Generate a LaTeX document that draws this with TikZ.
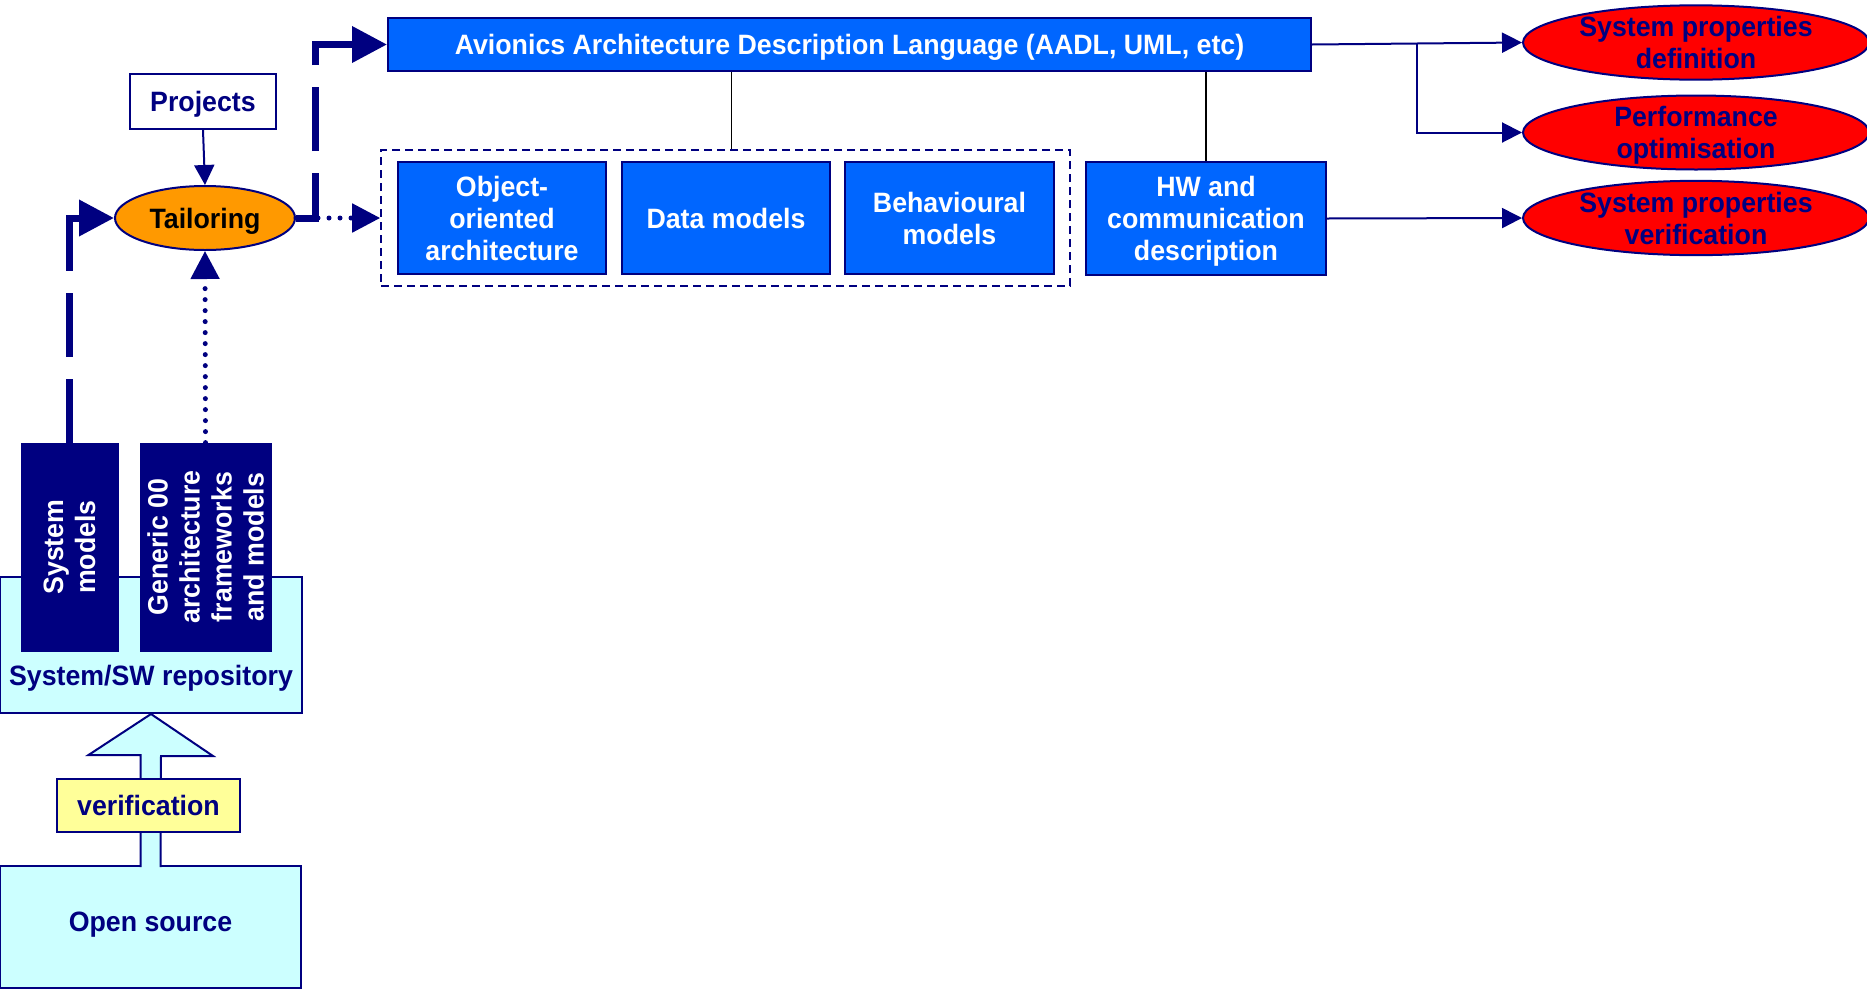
\documentclass[tikz,border=0pt]{standalone}
\usepackage{fontspec}
\setmainfont{Liberation Sans}[FakeStretch=0.955]
\usetikzlibrary{shapes,arrows.meta,calc,positioning}
\definecolor{navy}{HTML}{000080}
\definecolor{boxblue}{HTML}{0066FF}
\definecolor{ovalred}{HTML}{FF0000}
\definecolor{tailorange}{HTML}{FF9900}
\definecolor{repocyan}{HTML}{CCFFFF}
\definecolor{verifyellow}{HTML}{FFFF99}

\begin{document}
\begin{tikzpicture}[x=0.5pt, y=-0.5pt, font=\fontsize{14}{16}\selectfont\bfseries]
		\tikzstyle {blue box} = [draw=navy, line width=1pt, fill=boxblue, text=white, align=center, inner sep=2pt]
		\tikzstyle {dark box} = [draw=navy, fill=navy, text=white, align=center, rotate=90, minimum width=104pt, inner sep=2pt]
		\tikzstyle {red oval} = [ellipse, draw=navy, line width=1pt, fill=ovalred, text=navy, align=center, minimum width=173pt, minimum height=37pt, inner sep=0pt]
		\tikzstyle {cyan box} = [draw=navy, line width=1pt, fill=repocyan, text=navy]
		\tikzstyle {flat text} = [text depth=0pt]
		\tikzstyle {thick dash} = [navy, line width=3.5pt, dash pattern=on 32pt off 11pt, -{Triangle[length=17.5pt,width=17.5pt]}]
		\tikzstyle {dot line} = [navy, line width=2.5pt, line cap=round, dash pattern=on 0pt off 5.5pt, -{Triangle[length=14pt,width=14pt]}]
		\tikzstyle {thin arrow} = [navy, line width=1pt, -{Triangle[length=10pt,width=10pt]}]
		\tikzstyle {black line} = [black, line width=0.8pt]

		\useasboundingbox (0,0) rectangle (1867,991);

		\node[blue box, flat text, minimum width=461.5pt, minimum height=26.5pt] (aadl) at (849.5,44.5) {Avionics Architecture Description Language (AADL, UML, etc)};
		\node[draw=navy, line width=1pt, fill=white, text=navy, flat text, minimum width=73pt, minimum height=27.5pt] (proj) at (203,101.5) {Projects};
		\node[ellipse, draw=navy, line width=1pt, fill=tailorange, flat text, minimum width=90pt, minimum height=32pt, inner sep=0pt] (tail) at (205,218) {Tailoring};

		\node[draw=navy, line width=0.8pt, dash pattern=on 4pt off 2.5pt, minimum width=344.5pt, minimum height=68pt] (grp) at (725.5,218) {};
		\node[blue box, minimum width=104pt, minimum height=56pt] (oo) at (502,218) {Object-\\oriented\\architecture};
		\node[blue box, minimum width=104pt, minimum height=56pt] (data) at (726,218) {Data models};
		\node[blue box, minimum width=104.5pt, minimum height=56pt] (behav) at (949.5,218) {Behavioural\\models};
		\node[blue box, flat text, minimum width=120pt, minimum height=56.5pt] (hw) at (1206,218.5) {HW and\\communication\\description};

		\node[red oval] (def) at (1696,42.5) {System properties\\definition};
		\node[red oval, flat text] (perf) at (1696,132.5) {Performance\\optimisation};
		\node[red oval] (ver) at (1696,218) {System properties\\verification};

		% repository with the two model stacks on top
		\node[cyan box, minimum width=151pt, minimum height=68pt] (repo) at (151,645) {};
		\node[text=navy, above=8pt of repo.south] (repotext) {System/SW repository};
		\node[dark box, minimum height=48.5pt] (sysm) at (69.5,547) {System\\models};
		\node[dark box, minimum height=65.5pt] (gen) at (205.5,547) {Generic 00\\architecture\\frameworks\\and models};

		\node[cyan box, text depth=5.3pt, minimum width=150.5pt, minimum height=61pt] (opn) at (150.5,927) {Open source};
		\draw[draw=navy, line width=1pt, fill=repocyan] ($(opn.north)+(-10,2)$) -- ++(0,-112) -- ++(-52,0) -- (repo.south) -- ++(62,42) -- ++(-52,0) -- ($(opn.north)+(10,2)$);
		\node[draw=navy, line width=1pt, fill=verifyellow, text=navy, minimum width=91.5pt, minimum height=26.5pt] (verif) at (148.5,805.5) {verification};

		% rotated boxes: east anchor is the top
		\draw[thick dash] (sysm.east) |- (tail.west);
		\draw[dot line] (gen.east) -- (tail.south);
		\draw[thin arrow] (proj.south) -- (tail.north);
		\draw[thick dash] (tail.east) -- ++(19,0) |- (aadl.west);
		\draw[dot line] (tail.east) -- (grp.west);

		\draw[black line] ($(grp.north)+(6,0)$) -- ($(aadl.south -| grp.north)+(6,0)$);
		\draw[black line] (hw.north) -- (hw.north |- aadl.south);

		\draw[thin arrow] (aadl.east) -- (def.west);
		\draw[thin arrow] ($(aadl.east)!0.5!(def.west)$) |- (perf.west);
		\draw[thin arrow] (hw.east) -- (ver.west);
\end{tikzpicture}
\end{document}
